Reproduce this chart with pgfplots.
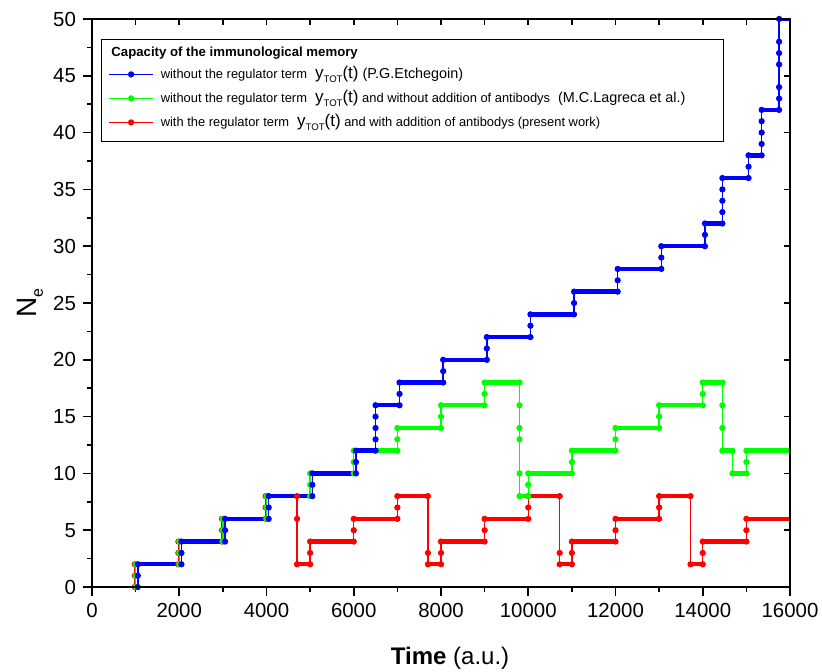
\documentclass[border=0pt]{standalone}
\usepackage{fontspec}
\setmainfont{Liberation Sans}
\usepackage{pgfplots}
\pgfplotsset{compat=1.18}
\definecolor{cb}{RGB}{0,0,255}
\definecolor{cg}{RGB}{0,255,0}
\definecolor{cr}{RGB}{255,0,0}
\newcommand{\s}{\fontsize{6.45}{7}\selectfont}
\newcommand{\bg}{\fontsize{7.2}{8}\selectfont}
\newcommand{\yt}{{\fontsize{8.5}{9}\selectfont y\raisebox{-0.45ex}{\fontsize{4.8}{5}\selectfont TOT}(t)}}
\begin{document}
\begin{tikzpicture}
\useasboundingbox (-46pt,-42pt) rectangle (365pt,293.5pt);
\pgfplotsset{
  frame/.style={scale only axis, width=349pt, height=284pt,
    xmin=0, xmax=16000, ymin=0, ymax=50, scaled x ticks=false, scaled y ticks=false,
    axis line style={line width=1pt},
    every tick/.style={black, line width=0.8pt}},
  thin/.style={#1, line width=0.7pt, mark=*, mark size=1.2pt, mark options={solid, fill=#1}},
  thick/.style={#1, line width=2.2pt, line cap=round, unbounded coords=jump, forget plot},
}
\begin{axis}[frame,
  xtick={0,2000,...,16000}, minor xtick={1000,3000,...,15000},
  ytick={0,5,...,50}, minor ytick={2.5,7.5,...,47.5},
  xtick pos=left, ytick pos=left, tick align=outside,
  major tick length=4.5pt, minor tick length=2.5pt,
  tick label style={font=\fontsize{10.2}{12}\selectfont},
  /pgf/number format/assume math mode=true,
  /pgf/number format/set thousands separator={},
  every axis x label/.style={at={(axis description cs:0.513,-0.125)}, anchor=center},
  every axis y label/.style={at={(axis description cs:-0.089,0.5)}, rotate=90, anchor=center},
  xlabel={\fontsize{12}{14}\selectfont\textbf{Time} (a.u.)},
  ylabel={\fontsize{14}{16}\selectfont N\raisebox{-0.45ex}{\fontsize{8}{8}\selectfont e}},
  legend style={at={(rel axis cs:0.0229,0.9243)}, anchor=north west, draw=none, fill=none,
    inner sep=0pt, row sep=0pt, column sep=3.5pt,
    nodes={inner sep=0pt, anchor=west, text height=8pt, text depth=4pt}},
  legend cell align=left,
  legend image code/.code={\draw[mark repeat=2,mark phase=2,#1]
    plot coordinates {(0pt,0pt) (11pt,0pt) (22pt,0pt)};},
]
% red: with regulator term, with antibodies (present work)
\addplot[thick=cr] coordinates {
  (980,2)(1980,2) (1980,nan) (1980,4)(2980,4) (2980,nan) (2980,6)(3980,6) (3980,nan)
  (3980,8)(4700,8) (4700,nan) (4700,2)(5000,2) (5000,nan) (5000,4)(6000,4) (6000,nan)
  (6000,6)(7000,6) (7000,nan) (7000,8)(7700,8) (7700,nan) (7700,2)(8000,2) (8000,nan)
  (8000,4)(9000,4) (9000,nan) (9000,6)(10000,6) (10000,nan) (10000,8)(10720,8) (10720,nan)
  (10720,2)(11000,2) (11000,nan) (11000,4)(12000,4) (12000,nan) (12000,6)(13000,6) (13000,nan)
  (13000,8)(13720,8) (13720,nan) (13720,2)(14000,2) (14000,nan) (14000,4)(15000,4) (15000,nan)
  (15000,6)(16050,6)
};
\addplot[thin=cr, forget plot] coordinates {
  (980,0)(980,1)(980,2)(1980,2)(1980,3)(1980,4)(2980,4)(2980,5)(2980,6)(3980,6)(3980,7)(3980,8)
  (4700,8)(4700,6)(4700,2)(5000,2)(5000,3)(5000,4)(6000,4)(6000,5)(6000,6)(7000,6)(7000,7)(7000,8)
  (7700,8)(7700,3)(7700,2)(8000,2)(8000,3)(8000,4)(9000,4)(9000,5)(9000,6)(10000,6)(10000,7)(10000,8)
  (10720,8)(10720,3)(10720,2)(11000,2)(11000,3)(11000,4)(12000,4)(12000,5)(12000,6)(13000,6)(13000,7)(13000,8)
  (13720,8)(13720,2)(14000,2)(14000,3)(14000,4)(15000,4)(15000,5)(15000,6)
};
% green: without regulator term, without antibodies (Lagreca et al.)
\addplot[thick=cg] coordinates {
  (1000,2)(2000,2) (2000,nan) (2000,4)(3000,4) (3000,nan) (3000,6)(4000,6) (4000,nan)
  (4000,8)(5000,8) (5000,nan) (5000,10)(6000,10) (6000,nan) (6000,12)(7000,12) (7000,nan)
  (7000,14)(8000,14) (8000,nan) (8000,16)(9000,16) (9000,nan) (9000,18)(9800,18) (9800,nan)
  (9800,8)(10000,8) (10000,nan) (10000,10)(11000,10) (11000,nan) (11000,12)(12000,12) (12000,nan)
  (12000,14)(13000,14) (13000,nan) (13000,16)(14000,16) (14000,nan) (14000,18)(14450,18) (14450,nan)
  (14450,12)(14680,12) (14680,nan) (14680,10)(15000,10) (15000,nan) (15000,12)(16050,12)
};
\addplot[thin=cg, forget plot] coordinates {
  (1000,0)(1000,1)(1000,2)(2000,2)(2000,3)(2000,4)(3000,4)(3000,5)(3000,6)(4000,6)(4000,7)(4000,8)
  (5000,8)(5000,9)(5000,10)(6000,10)(6000,11)(6000,12)(7000,12)(7000,13)(7000,14)(8000,14)(8000,15)(8000,16)
  (9000,16)(9000,17)(9000,18)(9800,18)(9800,16)(9800,14)(9800,13)(9800,10)(9800,8)(10000,8)(10000,9)(10000,10)
  (11000,10)(11000,11)(11000,12)(12000,12)(12000,13)(12000,14)(13000,14)(13000,15)(13000,16)(14000,16)(14000,17)(14000,18)
  (14450,18)(14450,16)(14450,14)(14450,12)(14680,12)(14680,10)(15000,10)(15000,11)(15000,12)
};
% blue: without regulator term (Etchegoin)
\addplot[thick=cb] coordinates {
  (1050,2)(2050,2) (2050,nan) (2050,4)(3050,4) (3050,nan) (3050,6)(4050,6) (4050,nan)
  (4050,8)(5050,8) (5050,nan) (5050,10)(6050,10) (6050,nan) (6050,12)(6500,12) (6500,nan)
  (6500,16)(7050,16) (7050,nan) (7050,18)(8050,18) (8050,nan) (8050,20)(9050,20) (9050,nan)
  (9050,22)(10050,22) (10050,nan) (10050,24)(11050,24) (11050,nan) (11050,26)(12050,26) (12050,nan)
  (12050,28)(13050,28) (13050,nan) (13050,30)(14050,30) (14050,nan) (14050,32)(14450,32) (14450,nan)
  (14450,36)(15050,36) (15050,nan) (15050,38)(15350,38) (15350,nan) (15350,42)(15750,42) (15750,nan)
  (15750,50)(16050,50)
};
\addplot[thin=cb, forget plot] coordinates {
  (1050,0)(1050,1)(1050,2)(2050,2)(2050,3)(2050,4)(3050,4)(3050,5)(3050,6)(4050,6)(4050,7)(4050,8)
  (5050,8)(5050,9)(5050,10)(6050,10)(6050,11)(6050,12)(6500,12)(6500,13)(6500,14)(6500,15)(6500,16)
  (7050,16)(7050,17)(7050,18)(8050,18)(8050,19)(8050,20)(9050,20)(9050,21)(9050,22)(10050,22)(10050,23)(10050,24)
  (11050,24)(11050,25)(11050,26)(12050,26)(12050,27)(12050,28)(13050,28)(13050,29)(13050,30)(14050,30)(14050,31)(14050,32)
  (14450,32)(14450,33)(14450,34)(14450,35)(14450,36)(15050,36)(15050,37)(15050,38)(15350,38)(15350,39)(15350,40)(15350,41)(15350,42)
  (15750,42)(15750,43)(15750,44)(15750,46)(15750,47)(15750,48)(15750,50)
};
\addlegendimage{cb, line width=0.7pt, mark=*, mark size=1.2pt}
\addlegendentry{{\s without the regulator term}\hspace{4pt}\yt\hspace{2pt}{\bg (P.G.Etchegoin)}}
\addlegendimage{cg, line width=0.7pt, mark=*, mark size=1.2pt}
\addlegendentry{{\s without the regulator term}\hspace{4pt}\yt{\s\ and without addition of antibodys}\hspace{4pt}{\bg (M.C.Lagreca et al.)}}
\addlegendimage{cr, line width=0.7pt, mark=*, mark size=1.2pt}
\addlegendentry{{\s with the regulator term}\hspace{4pt}\yt{\s\ and with addition of antibodys (present work)}}
\draw[line width=0.5pt] (rel axis cs:0.0129,0.9648) rectangle (rel axis cs:0.9054,0.7852);
\node[anchor=west, inner sep=0pt, font=\fontsize{6.6}{7}\selectfont\bfseries] at (rel axis cs:0.0272,0.940) {Capacity of the immunological memory};
\end{axis}
\begin{axis}[frame,
  xtick={0,1000,...,16000}, ytick={0,5,...,50},
  xtick pos=right, ytick pos=right, tick align=inside,
  major tick length=3pt, xticklabels={}, yticklabels={},
]
\end{axis}
\end{tikzpicture}
\end{document}
